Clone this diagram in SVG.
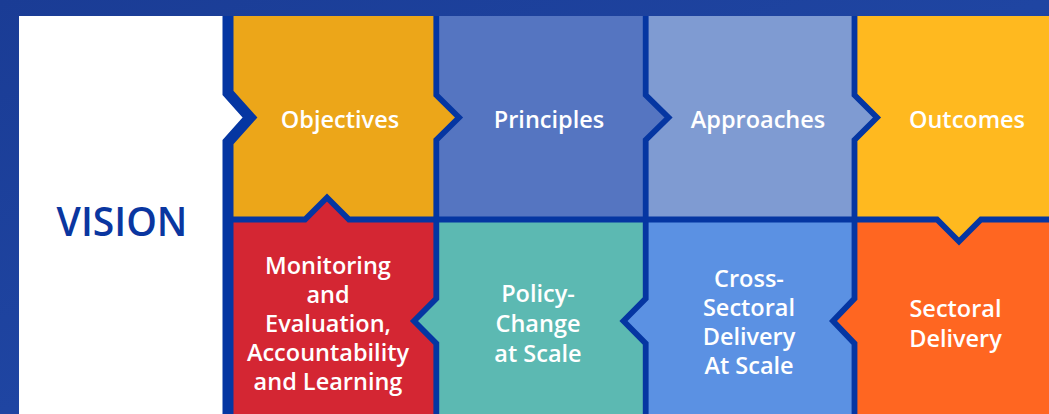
<svg xmlns="http://www.w3.org/2000/svg" width="1049" height="414" viewBox="0 0 1049 414">
<style>
.lbl{font-family:"Open Sans","Liberation Sans",sans-serif;font-weight:600;font-size:23.5px;fill:#ffffff;text-anchor:middle}
.vis{font-family:"Open Sans","Liberation Sans",sans-serif;font-weight:600;font-size:39px;fill:#0a36a0;text-anchor:middle}
.ln{fill:none;stroke:#0536a2;stroke-width:5.8;stroke-linejoin:miter;stroke-miterlimit:10}
</style>
<defs>
<linearGradient id="bg" x1="0" y1="0" x2="1" y2="1">
<stop offset="0" stop-color="#1a3c95"/>
<stop offset="0.5" stop-color="#1f45a2"/>
<stop offset="1" stop-color="#1a3c95"/>
</linearGradient>
</defs>
<rect x="0" y="0" width="1049" height="414" fill="url(#bg)"/>

<g id="vision">
<polygon points="19,16 228,16 228,93 250,117.5 228,142 228,414 19,414" fill="#ffffff"/>
<text class="vis" x="122" y="236">VISION</text>
</g>

<g id="objectives">
<polygon points="228,16 436.3,16 436.3,95 459,117.5 436.3,140 436.3,219.5 349,219.5 327,197.5 305,219.5 228,219.5 228,142 250,117.5 228,93" fill="#eca619"/>
<text class="lbl" x="340" y="128">Objectives</text>
</g>

<g id="principles">
<polygon points="436.3,16 645.7,16 645.7,95 668.5,117.5 645.7,140 645.7,219.5 436.3,219.5 436.3,140 459,117.5 436.3,95" fill="#5575c1"/>
<text class="lbl" x="549" y="128">Principles</text>
</g>

<g id="approaches">
<polygon points="645.7,16 854.5,16 854.5,95 877,117.5 854.5,140 854.5,219.5 645.7,219.5 645.7,140 668.5,117.5 645.7,95" fill="#7f9bd2"/>
<text class="lbl" x="758" y="128">Approaches</text>
</g>

<g id="outcomes">
<polygon points="854.5,16 1049,16 1049,219.5 981,219.5 959,241.5 937,219.5 854.5,219.5 854.5,140 877,117.5 854.5,95" fill="#ffb91f"/>
<text class="lbl" x="967" y="128">Outcomes</text>
</g>

<g id="monitoring">
<polygon points="228,219.5 305,219.5 327,197.5 349,219.5 436.3,219.5 436.3,298.5 414,321 436.3,343.5 436.3,414 228,414" fill="#d42633"/>
<text class="lbl" x="328" y="273.5">Monitoring</text>
<text class="lbl" x="328" y="302.7">and</text>
<text class="lbl" x="328" y="331.9">Evaluation,</text>
<text class="lbl" x="328" y="361.1">Accountability</text>
<text class="lbl" x="328" y="390.3">and Learning</text>
</g>

<g id="policy">
<polygon points="436.3,219.5 645.7,219.5 645.7,298.5 623.5,321 645.7,343.5 645.7,414 436.3,414 436.3,343.5 414,321 436.3,298.5" fill="#5cb9b2"/>
<text class="lbl" x="538" y="301.7">Policy-</text>
<text class="lbl" x="538" y="331.7">Change</text>
<text class="lbl" x="538" y="361.7">at Scale</text>
</g>

<g id="cross-sectoral">
<polygon points="645.7,219.5 854.5,219.5 854.5,298.5 833,321 854.5,343.5 854.5,414 645.7,414 645.7,343.5 623.5,321 645.7,298.5" fill="#5b91e3"/>
<text class="lbl" x="749" y="286.5">Cross-</text>
<text class="lbl" x="749" y="315.5">Sectoral</text>
<text class="lbl" x="749" y="344.5">Delivery</text>
<text class="lbl" x="749" y="373.5">At Scale</text>
</g>

<g id="sectoral">
<polygon points="854.5,219.5 937,219.5 959,241.5 981,219.5 1049,219.5 1049,414 854.5,414 854.5,343.5 833,321 854.5,298.5" fill="#ff6621"/>
<text class="lbl" x="955.5" y="317.3">Sectoral</text>
<text class="lbl" x="955.5" y="346.7">Delivery</text>
</g>

<g id="connectors">
<polyline class="ln" style="stroke-width:11" points="228,16 228,93 250,117.5 228,142 228,414"/>
<polyline class="ln" points="436.3,16 436.3,95 459,117.5 436.3,140 436.3,298.5 414,321 436.3,343.5 436.3,414"/>
<polyline class="ln" points="645.7,16 645.7,95 668.5,117.5 645.7,140 645.7,298.5 623.5,321 645.7,343.5 645.7,414"/>
<polyline class="ln" points="854.5,16 854.5,95 877,117.5 854.5,140 854.5,298.5 833,321 854.5,343.5 854.5,414"/>
<polyline class="ln" points="228,219.5 305,219.5 327,197.5 349,219.5 937,219.5 959,241.5 981,219.5 1049,219.5"/>
</g>
</svg>
